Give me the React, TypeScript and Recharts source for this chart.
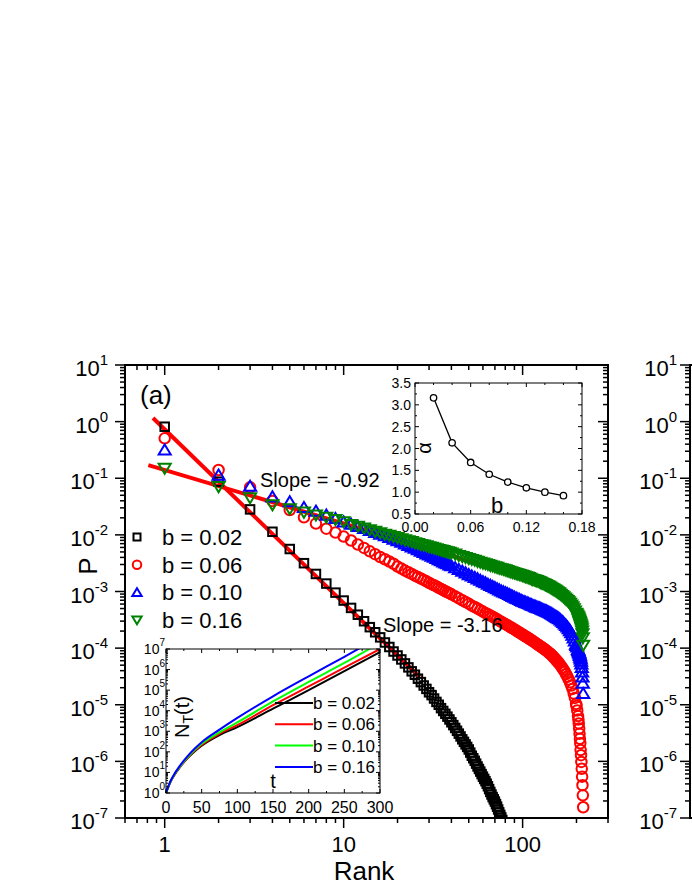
import { ComposedChart, LineChart, Line, Scatter, XAxis, YAxis } from 'recharts'

const FONT = '"Liberation Sans", Arial, Helvetica, sans-serif'

// main panel (a): P versus rank, values kept as log10(P)
const ranksB002 = [
  1, 2, 3, 4, 5, 6, 7, 8, 9, 10, 11, 12, 13, 14, 15, 16, 17, 18, 19, 20,
  21, 22, 23, 24, 25, 26, 27, 28, 29, 30, 31, 32, 33, 34, 35, 36, 37, 38, 39, 40,
  41, 42, 43, 44, 45, 46, 47, 48, 49, 50, 51, 52, 53, 54, 55, 56, 57, 58, 59, 60,
  61, 62, 63, 64, 65, 66, 67, 68, 69, 70, 71, 72, 73, 74, 75, 76, 77, 78,
]
const logP_b002 = [
  -0.09, -1.06, -1.55, -1.945, -2.25, -2.5, -2.69, -2.86, -3.02, -3.16,
  -3.29, -3.41, -3.525, -3.63, -3.72, -3.81, -3.9, -3.98, -4.06, -4.13,
  -4.2, -4.27, -4.34, -4.41, -4.47, -4.54, -4.6, -4.66, -4.72, -4.78,
  -4.83, -4.89, -4.95, -5.0, -5.06, -5.11, -5.16, -5.21, -5.26, -5.31,
  -5.36, -5.41, -5.46, -5.51, -5.56, -5.61, -5.655, -5.7, -5.745, -5.79,
  -5.845, -5.9, -5.945, -5.99, -6.04, -6.09, -6.135, -6.18, -6.225, -6.27,
  -6.31, -6.35, -6.395, -6.44, -6.49, -6.54, -6.585, -6.63, -6.67, -6.71,
  -6.755, -6.8, -6.85, -6.9, -6.945, -6.99, -7.035, -7.08,
]

const ranks = [
  1, 2, 3, 4, 5, 6, 7, 8, 9, 10, 11, 12, 13, 14, 15, 16, 17, 18, 19, 20,
  21, 22, 23, 24, 25, 26, 27, 28, 29, 30, 31, 32, 33, 34, 35, 36, 37, 38, 39, 40,
  42, 44, 46, 48, 50, 52, 54, 56, 58, 60, 62, 64, 66, 68, 70, 72, 74, 76, 78, 80,
  82, 84, 86, 88, 90, 92, 94, 96, 98, 100, 102, 104, 106, 108, 110, 112, 114, 116, 118, 120,
  122, 124, 126, 128, 130, 132, 134, 136, 138, 140, 142, 144, 146, 148, 150, 152, 154, 156, 158, 160,
  163, 166, 169, 172, 175, 178, 181, 184, 187, 190, 193, 196, 199,
  200, 202, 204, 205, 206, 207, 208, 209, 210, 211, 212, 213, 214, 215, 216, 217, 218,
]
const logP_b006 = [
  -0.295, -0.855, -1.16, -1.4, -1.56, -1.69, -1.8, -1.89, -1.96, -2.03,
  -2.1, -2.17, -2.23, -2.29, -2.34, -2.39, -2.43, -2.47, -2.51, -2.56,
  -2.595, -2.63, -2.66, -2.69, -2.72, -2.745, -2.77, -2.795, -2.82, -2.845,
  -2.87, -2.89, -2.91, -2.935, -2.955, -2.975, -2.995, -3.015, -3.03, -3.05,
  -3.085, -3.12, -3.155, -3.185, -3.215, -3.25, -3.275, -3.3, -3.33, -3.355,
  -3.38, -3.4, -3.425, -3.445, -3.47, -3.49, -3.515, -3.535, -3.555, -3.575,
  -3.595, -3.615, -3.633, -3.65, -3.67, -3.69, -3.708, -3.725, -3.743, -3.76,
  -3.778, -3.795, -3.81, -3.825, -3.843, -3.86, -3.875, -3.89, -3.908, -3.925,
  -3.94, -3.955, -3.97, -3.985, -4.0, -4.015, -4.03, -4.045, -4.063, -4.08,
  -4.095, -4.11, -4.13, -4.15, -4.17, -4.19, -4.21, -4.23, -4.25, -4.27,
  -4.305, -4.342, -4.378, -4.418, -4.46, -4.505, -4.552, -4.603, -4.66, -4.72, -4.8, -4.88, -4.985,
  -5.02, -5.1, -5.2, -5.26, -5.33, -5.42, -5.51, -5.6, -5.68, -5.8, -5.89, -6.01, -6.13, -6.27, -6.42, -6.6, -6.81,
]
const logP_b010 = [
  -0.5, -0.943, -1.14, -1.327, -1.415, -1.515, -1.58, -1.65, -1.71, -1.77,
  -1.81, -1.85, -1.885, -1.92, -1.955, -1.985, -2.015, -2.045, -2.075, -2.1,
  -2.13, -2.16, -2.185, -2.21, -2.235, -2.26, -2.285, -2.31, -2.335, -2.355,
  -2.375, -2.395, -2.415, -2.435, -2.455, -2.475, -2.495, -2.51, -2.53, -2.545,
  -2.58, -2.61, -2.64, -2.67, -2.7, -2.725, -2.75, -2.775, -2.8, -2.825,
  -2.845, -2.87, -2.89, -2.91, -2.93, -2.95, -2.97, -2.99, -3.005, -3.02,
  -3.035, -3.05, -3.068, -3.085, -3.1, -3.115, -3.128, -3.14, -3.155, -3.17,
  -3.18, -3.19, -3.2, -3.21, -3.223, -3.235, -3.245, -3.255, -3.265, -3.275,
  -3.283, -3.29, -3.3, -3.31, -3.32, -3.33, -3.338, -3.345, -3.355, -3.365,
  -3.375, -3.385, -3.398, -3.41, -3.423, -3.435, -3.445, -3.455, -3.468, -3.48,
  -3.5, -3.523, -3.547, -3.573, -3.6, -3.627, -3.656, -3.689, -3.728, -3.77, -3.818, -3.87, -3.93,
  -3.95, -3.98, -4.02, -4.04, -4.06, -4.08, -4.1, -4.13, -4.16, -4.19, -4.23, -4.28, -4.34, -4.42, -4.51, -4.62, -4.8,
]
const logP_b016 = [
  -0.825, -1.15, -1.345, -1.47, -1.54, -1.6, -1.65, -1.69, -1.73, -1.77,
  -1.82, -1.85, -1.88, -1.91, -1.94, -1.965, -1.99, -2.01, -2.03, -2.05,
  -2.07, -2.09, -2.105, -2.12, -2.14, -2.155, -2.17, -2.18, -2.195, -2.21,
  -2.22, -2.235, -2.245, -2.26, -2.27, -2.28, -2.29, -2.3, -2.31, -2.32,
  -2.34, -2.365, -2.385, -2.4, -2.42, -2.435, -2.45, -2.47, -2.485, -2.5,
  -2.51, -2.525, -2.54, -2.55, -2.565, -2.575, -2.59, -2.6, -2.61, -2.62,
  -2.633, -2.645, -2.655, -2.665, -2.675, -2.685, -2.693, -2.7, -2.71, -2.72,
  -2.73, -2.74, -2.748, -2.755, -2.768, -2.78, -2.788, -2.795, -2.803, -2.81,
  -2.82, -2.83, -2.84, -2.85, -2.86, -2.87, -2.88, -2.89, -2.9, -2.91,
  -2.923, -2.935, -2.948, -2.96, -2.97, -2.98, -2.993, -3.005, -3.018, -3.03,
  -3.05, -3.072, -3.093, -3.116, -3.14, -3.161, -3.184, -3.211, -3.24, -3.27, -3.305, -3.345, -3.385,
  -3.4, -3.42, -3.45, -3.47, -3.49, -3.51, -3.53, -3.55, -3.57, -3.59, -3.61, -3.63, -3.66, -3.7, -3.75, -3.82, -3.95,
]

// fitted power laws, end points
const fitSteepRank = [0.86, 26.6]
const fitSteepP = [1.16, 3.1e-5]
const fitFlatRank = [0.81, 100]
const fitFlatP = [0.171, 0.0018]

const seriesLabels = ['b = 0.02', 'b = 0.06', 'b = 0.10', 'b = 0.16']

// inset: exponent alpha vs b
const bValues = [0.02, 0.04, 0.06, 0.08, 0.1, 0.12, 0.14, 0.16]
const alphaValues = [3.16, 2.13, 1.68, 1.41, 1.23, 1.1, 1.0, 0.92]

// inset: N_T(t), log10 values
const tValues = [0, 5, 10, 20, 30, 40, 50, 75, 100, 150, 200, 250, 300]
const logN_b002 = [0, 0.45, 0.78, 1.28, 1.68, 2.02, 2.3, 2.82, 3.2, 4.1, 5.0, 5.92, 6.85]
const logN_b006 = [0, 0.45, 0.78, 1.29, 1.7, 2.05, 2.34, 2.88, 3.3, 4.27, 5.18, 6.1, 7.0]
const logN_b010 = [0, 0.46, 0.8, 1.31, 1.73, 2.09, 2.39, 2.95, 3.43, 4.45, 5.4, 6.32, 7.3]
const logN_b016 = [0, 0.47, 0.82, 1.35, 1.78, 2.15, 2.47, 3.08, 3.65, 4.7, 5.67, 6.62, 7.6]

// axis ticks
const mainYDecades = [-7, -6, -5, -4, -3, -2, -1, 0]
const mainXTicks = [0.6, 0.7, 0.8, 0.9, 1, 2, 3, 4, 5, 6, 7, 8, 9, 10, 20, 30, 40, 50, 60, 70, 80, 90, 100, 200, 300]
const mainXLabels = [1, 10, 100]
const insetNDecades = [0, 1, 2, 3, 4, 5, 6]
const insetTTicks = [0, 25, 50, 75, 100, 125, 150, 175, 200, 225, 250, 275, 300]
const insetBTicks = [0, 0.02, 0.04, 0.06, 0.08, 0.1, 0.12, 0.14, 0.16, 0.18]
const insetBLabels = [0, 0.06, 0.12, 0.18]
const insetATicks = [0.5, 0.75, 1, 1.25, 1.5, 1.75, 2, 2.25, 2.5, 2.75, 3, 3.25, 3.5]

const logTicks = (decades: number[]) => [
  ...decades.flatMap((d) => [1, 2, 3, 4, 5, 6, 7, 8, 9].map((k) => k * 10 ** d)),
  10 ** (decades[decades.length - 1] + 1),
]

// layout (page pixels)
const M = { left: 125, right: 608, top: 365, bottom: 818 }
const PANEL_B_X = 690
const NI = { left: 166, right: 380, top: 649, bottom: 793 }
const AI = { left: 415, right: 582, top: 383, bottom: 514 }

const toPoints = (rs: number[], logs: number[]) => rs.map((rank, i) => ({ rank, P: 10 ** logs[i] }))

const isDecade = (v: number) => {
  const lg = Math.log10(v)
  return { major: Math.abs(lg - Math.round(lg)) < 1e-6, exp: Math.round(lg) }
}

function Power({ x, y, exp, size, supSize, rise, drop }: any) {
  return (
    <text x={x} y={y + drop} textAnchor="end" fontSize={size} fontFamily={FONT} fill="#000" stroke="none">
      10
      <tspan dy={-rise} fontSize={supSize}>
        {exp}
      </tspan>
    </text>
  )
}

// markers
const square = (cx: number, cy: number, s: number) => (
  <rect x={cx - s / 2} y={cy - s / 2} width={s} height={s} fill="none" stroke="#000" strokeWidth={2} />
)
const circle = (cx: number, cy: number, s: number) => (
  <circle cx={cx} cy={cy} r={s / 2} fill="none" stroke="#FF0000" strokeWidth={2} />
)
const triUp = (cx: number, cy: number, s: number) => (
  <path
    d={`M${cx},${cy - s * 0.5} L${cx + s * 0.55},${cy + s * 0.42} L${cx - s * 0.55},${cy + s * 0.42} Z`}
    fill="none"
    stroke="#0000FF"
    strokeWidth={2}
  />
)
const triDown = (cx: number, cy: number, s: number) => (
  <path
    d={`M${cx},${cy + s * 0.5} L${cx + s * 0.55},${cy - s * 0.42} L${cx - s * 0.55},${cy - s * 0.42} Z`}
    fill="none"
    stroke="#008000"
    strokeWidth={2}
  />
)
const markers = [square, circle, triUp, triDown]

function MainYTick({ y, payload }: any) {
  const { major, exp } = isDecade(payload.value)
  const len = major ? 10 : 5
  return (
    <g stroke="#000" strokeWidth={1.5}>
      <line x1={M.left - len} x2={M.left} y1={y} y2={y} />
      <line x1={M.right - len} x2={M.right} y1={y} y2={y} />
      <line x1={PANEL_B_X - len} x2={PANEL_B_X} y1={y} y2={y} />
      {major && <Power x={108} y={y} exp={exp} size={22} supSize={15} rise={11} drop={11} />}
      {major && <Power x={677} y={y} exp={exp} size={22} supSize={15} rise={11} drop={11} />}
    </g>
  )
}

function MainXTick({ x, payload }: any) {
  const major = mainXLabels.includes(payload.value)
  const len = major ? 10 : 5
  return (
    <g stroke="#000" strokeWidth={1.5}>
      <line x1={x} x2={x} y1={M.bottom} y2={M.bottom + len} />
      <line x1={x} x2={x} y1={M.top} y2={M.top + len} />
      {major && (
        <text x={x} y={852} textAnchor="middle" fontSize={22} fontFamily={FONT} fill="#000" stroke="none">
          {payload.value}
        </text>
      )}
    </g>
  )
}

function NYTick({ y, payload }: any) {
  const { major, exp } = isDecade(payload.value)
  const len = major ? 4 : 2
  return (
    <g stroke="#000" strokeWidth={1}>
      <line x1={NI.left} x2={NI.left + len} y1={y} y2={y} />
      <line x1={NI.right - len} x2={NI.right} y1={y} y2={y} />
      {major && <Power x={165} y={y} exp={exp} size={14} supSize={10} rise={8} drop={5} />}
    </g>
  )
}

function NXTick({ x, payload }: any) {
  const major = payload.value % 50 === 0
  const len = major ? 4 : 2
  return (
    <g stroke="#000" strokeWidth={1}>
      <line x1={x} x2={x} y1={NI.bottom - len} y2={NI.bottom} />
      <line x1={x} x2={x} y1={NI.top} y2={NI.top + len} />
      {major && (
        <text x={x} y={813} textAnchor="middle" fontSize={16} fontFamily={FONT} fill="#000" stroke="none">
          {payload.value}
        </text>
      )}
    </g>
  )
}

function AYTick({ y, payload }: any) {
  const v = payload.value
  const major = Math.abs(v * 2 - Math.round(v * 2)) < 1e-6
  const len = major ? 4 : 2
  return (
    <g stroke="#000" strokeWidth={1}>
      <line x1={AI.left} x2={AI.left + len} y1={y} y2={y} />
      <line x1={AI.right - len} x2={AI.right} y1={y} y2={y} />
      {major && (
        <text x={411} y={y + 5} textAnchor="end" fontSize={14} fontFamily={FONT} fill="#000" stroke="none">
          {v.toFixed(1)}
        </text>
      )}
    </g>
  )
}

function AXTick({ x, payload }: any) {
  const v = payload.value
  const major = insetBLabels.some((l) => Math.abs(l - v) < 1e-9)
  const len = major ? 4 : 2
  return (
    <g stroke="#000" strokeWidth={1}>
      <line x1={x} x2={x} y1={AI.bottom - len} y2={AI.bottom} />
      <line x1={x} x2={x} y1={AI.top} y2={AI.top + len} />
      {major && (
        <text x={x} y={532} textAnchor="middle" fontSize={14} fontFamily={FONT} fill="#000" stroke="none">
          {v.toFixed(2)}
        </text>
      )}
    </g>
  )
}

const layer: React.CSSProperties = { position: 'absolute', left: 0, top: 0 }

export default function App() {
  const mainSeries = [
    toPoints(ranksB002, logP_b002),
    toPoints(ranks, logP_b006),
    toPoints(ranks, logP_b010),
    toPoints(ranks, logP_b016),
  ]
  const markerSize = [8.5, 10.5, 11, 11]
  const fitSteep = fitSteepRank.map((rank, i) => ({ rank, P: fitSteepP[i] }))
  const fitFlat = fitFlatRank.map((rank, i) => ({ rank, P: fitFlatP[i] }))
  const alphaData = bValues.map((b, i) => ({ b, alpha: alphaValues[i] }))
  const nData = tValues.map((t, i) => ({
    t,
    b002: 10 ** logN_b002[i],
    b006: 10 ** logN_b006[i],
    b010: 10 ** logN_b010[i],
    b016: 10 ** logN_b016[i],
  }))
  const nKeys = ['b002', 'b006', 'b010', 'b016']
  const nColors = ['#000000', '#FF0000', '#00FF00', '#0000FF']

  return (
    <div style={{ position: 'absolute', left: 0, top: 0, width: 692, height: 896, overflow: 'hidden', background: '#fff', fontFamily: FONT }}>
      <div style={layer}>
        <ComposedChart width={692} height={896} margin={{ top: M.top, right: 692 - M.right, bottom: 0, left: 0 }}>
          <XAxis
            type="number"
            dataKey="rank"
            scale="log"
            domain={[0.6, 300]}
            allowDataOverflow
            ticks={mainXTicks}
            interval={0}
            tickLine={false}
            axisLine={false}
            tickSize={0}
            height={896 - M.bottom}
            tick={(p: any) => <MainXTick {...p} />}
          />
          <YAxis
            type="number"
            dataKey="P"
            scale="log"
            domain={[1e-7, 10]}
            allowDataOverflow
            ticks={logTicks(mainYDecades)}
            interval={0}
            tickLine={false}
            axisLine={false}
            tickSize={0}
            width={M.left}
            tick={(p: any) => <MainYTick {...p} />}
          />
          {mainSeries.map((data, i) => (
            <Scatter
              key={seriesLabels[i]}
              name={seriesLabels[i]}
              data={data}
              dataKey="P"
              isAnimationActive={false}
              shape={(p: any) => markers[i](p.cx, p.cy, markerSize[i])}
            />
          ))}
          <Line data={fitSteep} dataKey="P" type="linear" stroke="#FF0000" strokeWidth={4} dot={false} isAnimationActive={false} />
          <Line data={fitFlat} dataKey="P" type="linear" stroke="#FF0000" strokeWidth={4} dot={false} isAnimationActive={false} />
        </ComposedChart>
      </div>

      <div style={layer}>
        <LineChart width={692} height={896} data={alphaData} margin={{ top: AI.top, right: 692 - AI.right, bottom: 896 - AI.bottom - 25, left: AI.left - 40 }}>
          <XAxis
            type="number"
            dataKey="b"
            domain={[0, 0.18]}
            ticks={insetBTicks}
            interval={0}
            tickLine={false}
            axisLine={false}
            tickSize={0}
            height={25}
            tick={(p: any) => <AXTick {...p} />}
          />
          <YAxis
            type="number"
            domain={[0.5, 3.5]}
            ticks={insetATicks}
            interval={0}
            tickLine={false}
            axisLine={false}
            tickSize={0}
            width={40}
            tick={(p: any) => <AYTick {...p} />}
          />
          <Line
            dataKey="alpha"
            type="linear"
            stroke="#000"
            strokeWidth={1.3}
            dot={{ r: 3.2, fill: '#fff', stroke: '#000', strokeWidth: 1.3 }}
            isAnimationActive={false}
          />
        </LineChart>
      </div>

      <div style={layer}>
        <LineChart width={692} height={896} data={nData} margin={{ top: NI.top, right: 692 - NI.right, bottom: 896 - NI.bottom - 27, left: NI.left - 46 }}>
          <XAxis
            type="number"
            dataKey="t"
            domain={[0, 300]}
            ticks={insetTTicks}
            interval={0}
            tickLine={false}
            axisLine={false}
            tickSize={0}
            height={27}
            tick={(p: any) => <NXTick {...p} />}
          />
          <YAxis
            type="number"
            scale="log"
            domain={[1, 1e7]}
            allowDataOverflow
            ticks={logTicks(insetNDecades)}
            interval={0}
            tickLine={false}
            axisLine={false}
            tickSize={0}
            width={46}
            tick={(p: any) => <NYTick {...p} />}
          />
          {nKeys.map((k, i) => (
            <Line key={k} dataKey={k} type="monotone" stroke={nColors[i]} strokeWidth={2} dot={false} isAnimationActive={false} />
          ))}
        </LineChart>
      </div>

      <svg style={{ ...layer, pointerEvents: 'none' }} width={692} height={896} fontFamily={FONT}>
        {/* frames */}
        <rect x={M.left} y={M.top} width={M.right - M.left} height={M.bottom - M.top} fill="none" stroke="#000" strokeWidth={2} />
        <path d={`M692,${M.top} L${PANEL_B_X},${M.top} L${PANEL_B_X},${M.bottom} L692,${M.bottom}`} fill="none" stroke="#000" strokeWidth={2} />
        <rect x={AI.left} y={AI.top} width={AI.right - AI.left} height={AI.bottom - AI.top} fill="none" stroke="#000" strokeWidth={1} />
        <rect x={NI.left} y={NI.top} width={NI.right - NI.left} height={NI.bottom - NI.top} fill="none" stroke="#000" strokeWidth={1} />

        {/* axis titles */}
        <text x={364} y={880} textAnchor="middle" fontSize={26}>Rank</text>
        <text transform="translate(97,566) rotate(-90)" textAnchor="middle" fontSize={26}>P</text>

        {/* annotations */}
        <text x={140} y={404} fontSize={26}>(a)</text>
        <text x={260} y={487} fontSize={20}>Slope = -0.92</text>
        <text x={383} y={632} fontSize={20}>Slope = -3.16</text>

        {/* main legend */}
        {seriesLabels.map((label, i) => {
          const cy = 537 + i * 27.7
          return (
            <g key={label}>
              {markers[i](137, cy, i === 0 ? 7 : 8.5)}
              <text x={162} y={cy + 8} fontSize={22}>{label}</text>
            </g>
          )
        })}

        {/* alpha inset labels */}
        <text transform="translate(431,448) rotate(-90)" textAnchor="middle" fontSize={20}>α</text>
        <text x={497} y={513} textAnchor="middle" fontSize={22}>b</text>

        {/* N_T(t) inset labels and legend */}
        <text transform="translate(189,717) rotate(-90)" textAnchor="middle" fontSize={20}>
          N<tspan fontSize={14} dy={4}>T</tspan>
          <tspan dy={-4}>(t)</tspan>
        </text>
        <text x={273} y={788} textAnchor="middle" fontSize={20}>t</text>
        {seriesLabels.map((label, i) => {
          const cy = 703 + i * 21.3
          return (
            <g key={label}>
              <line x1={275} x2={313} y1={cy} y2={cy} stroke={nColors[i]} strokeWidth={2} />
              <text x={313} y={cy + 6} fontSize={17}>{label}</text>
            </g>
          )
        })}
      </svg>
    </div>
  )
}
